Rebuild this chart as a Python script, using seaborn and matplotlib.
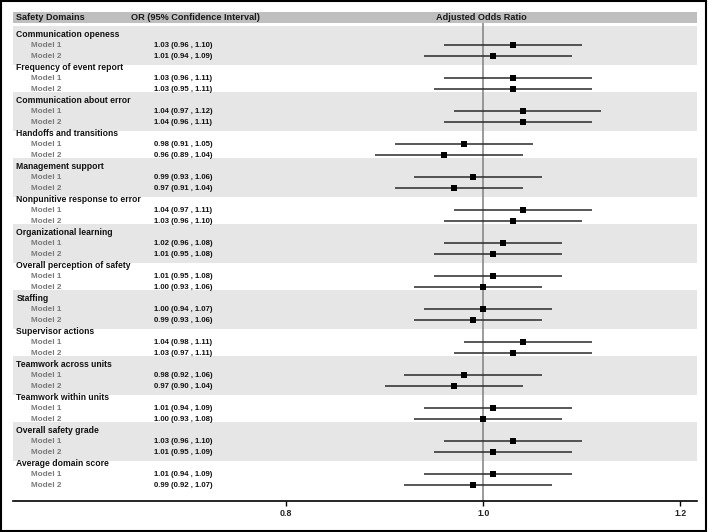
import numpy as np
import pandas as pd
import matplotlib
matplotlib.use("Agg")
import matplotlib.pyplot as plt
import seaborn as sns
from matplotlib import transforms
from matplotlib.patches import Rectangle

# ---------------- data ----------------
domains = [
    "Communication openess",
    "Frequency of event report",
    "Communication about error",
    "Handoffs and transitions",
    "Management support",
    "Nonpunitive response to error",
    "Organizational learning",
    "Overall perception of safety",
    "Staffing",
    "Supervisor actions",
    "Teamwork across units",
    "Teamwork within units",
    "Overall safety grade",
    "Average domain score",
]
model_names = ["Model 1", "Model 2"]
m1_or = [1.03, 1.03, 1.04, 0.98, 0.99, 1.04, 1.02, 1.01, 1.00, 1.04, 0.98, 1.01, 1.03, 1.01]
m1_lo = [0.96, 0.96, 0.97, 0.91, 0.93, 0.97, 0.96, 0.95, 0.94, 0.98, 0.92, 0.94, 0.96, 0.94]
m1_hi = [1.10, 1.11, 1.12, 1.05, 1.06, 1.11, 1.08, 1.08, 1.07, 1.11, 1.06, 1.09, 1.10, 1.09]
m2_or = [1.01, 1.03, 1.04, 0.96, 0.97, 1.03, 1.01, 1.00, 0.99, 1.03, 0.97, 1.00, 1.01, 0.99]
m2_lo = [0.94, 0.95, 0.96, 0.89, 0.91, 0.96, 0.95, 0.93, 0.93, 0.97, 0.90, 0.93, 0.95, 0.92]
m2_hi = [1.09, 1.11, 1.11, 1.04, 1.04, 1.10, 1.08, 1.06, 1.06, 1.11, 1.04, 1.08, 1.09, 1.07]
x_ticks = [0.8, 1.0, 1.2]
x_tick_labels = ["0.8", "1.0", "1.2"]
col_headers = ["Safety Domains", "OR (95% Confidence Interval)", "Adjusted Odds Ratio"]

# ---------------- table ----------------
recs = []
for g, name in enumerate(domains):
    for k, (o, lo, hi) in enumerate([(m1_or[g], m1_lo[g], m1_hi[g]),
                                     (m2_or[g], m2_lo[g], m2_hi[g])]):
        recs.append(dict(domain=name, model=model_names[k], row=3 * g + 1 + k,
                         OR=o, lo=lo, hi=hi))
df = pd.DataFrame(recs)

# ---------------- figure ----------------
sns.set_style("white")
plt.rcParams['font.family'] = ['Liberation Sans', 'DejaVu Sans']

W, H = 709, 532
fig = plt.figure(figsize=(W / 100, H / 100), dpi=100)
fig.patch.set_facecolor("white")
ax = fig.add_axes([13 / W, 1 - 501 / H, 684 / W, (501 - 12.3) / H])
ax.patch.set_alpha(0)

y_top, y_bot = -1.973, 42.45
tr = transforms.blended_transform_factory(fig.transFigure, ax.transData)

# shaded bands
for g in range(0, len(domains), 2):
    ax.axhspan(3 * g - 0.75, 3 * g + 2.8, color="#e6e6e6", lw=0, zorder=0)
# header bar
ax.axhspan(y_top, -0.97, color="#bfbfbf", lw=0, zorder=0)

# reference line
ax.vlines(1.0, -0.97, y_bot, color="#808080", lw=1.1, zorder=1)

# CIs and points
ax.hlines(df["row"], df["lo"], df["hi"], color="#2a2a2a", lw=1.1, zorder=2)
sns.scatterplot(data=df, x="OR", y="row", marker="s", s=22, color="black",
                edgecolor="black", linewidth=0, zorder=3, ax=ax, legend=False)

ax.set_xlim(0.5225, 1.217)
ax.set_ylim(y_bot, y_top)
ax.set_xlabel("")
ax.set_ylabel("")
ax.set_yticks([])
ax.set_xticks(x_ticks)
ax.set_xticklabels(x_tick_labels, fontsize=6.4, fontweight="bold")
ax.tick_params(axis="x", direction="out", length=3.5, width=1, color="black",
               pad=2.5, bottom=True)
for s in ["top", "right", "left"]:
    ax.spines[s].set_visible(False)
ax.spines["bottom"].set_color("black")
ax.spines["bottom"].set_linewidth(1.2)

# column headers
hy = -1.47
ax.text(16 / W, hy, col_headers[0], transform=tr, ha="left", va="center",
        fontsize=6.6, fontweight="bold", color="#1a1a1a")
ax.text(131 / W, hy, col_headers[1], transform=tr, ha="left", va="center",
        fontsize=6.6, fontweight="bold", color="#1a1a1a")
ax.text(481.3 / W, hy, col_headers[2], transform=tr, ha="center", va="center",
        fontsize=6.6, fontweight="bold", color="#1a1a1a")

# row labels
for g, name in enumerate(domains):
    ax.text(16.5 / W, 3 * g, name, transform=tr, ha="left", va="center",
            fontsize=6.2, fontweight="bold", color="#111111")
for _, r in df.iterrows():
    ax.text(31 / W, r["row"], r["model"], transform=tr, ha="left", va="center",
            fontsize=5.9, fontweight="bold", color="#7a7a7a")
    ax.text(154 / W, r["row"], f"{r['OR']:.2f} ({r['lo']:.2f} , {r['hi']:.2f})",
            transform=tr, ha="left", va="center", fontsize=5.6,
            fontweight="bold", color="#111111")

# outer border
fig.patches.append(Rectangle((1.2 / W, 1.2 / H), (706 - 1.2) / W, (530.8 - 1.2) / H,
                             transform=fig.transFigure, fill=False,
                             ec="black", lw=1.5))

fig.savefig("out.png", dpi=100)
